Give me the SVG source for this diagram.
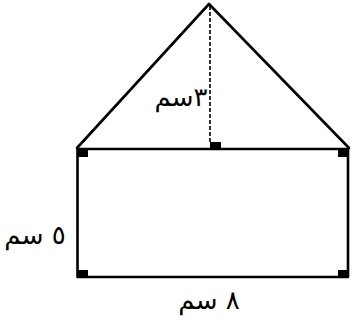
<svg xmlns="http://www.w3.org/2000/svg" width="352" height="322" viewBox="0 0 352 322">
<style>
.ln{stroke:#000;stroke-width:2.6;fill:none;stroke-linecap:round;stroke-linejoin:round}
.dash{stroke:#000;stroke-width:1.6;stroke-dasharray:4 2;fill:none}
.sq{fill:#000}
.lbl{font-family:"DejaVu Sans",sans-serif;font-size:26px;fill:#000;text-anchor:middle}
</style>
<rect width="352" height="322" fill="#fff"/>
<g id="triangle">
<polyline class="ln" points="77,148 209,4 349,148"/>
</g>
<g id="rectangle">
<rect class="ln" x="77.5" y="149" width="270.5" height="128"/>
</g>
<g id="connectors">
<line class="dash" x1="210" y1="6" x2="210" y2="143"/>
</g>
<g id="marks">
<rect class="sq" x="210" y="142" width="11" height="7"/>
<rect class="sq" x="78" y="149" width="10" height="8"/>
<rect class="sq" x="338" y="149" width="10" height="8"/>
<rect class="sq" x="78" y="270" width="10" height="8"/>
<rect class="sq" x="338" y="270" width="10" height="8"/>
</g>
<g id="labels">
<text class="lbl" x="181" y="106">٣سم</text>
<text class="lbl" x="35" y="244">٥ سم</text>
<text class="lbl" x="209" y="309">٨ سم</text>
</g>
</svg>
